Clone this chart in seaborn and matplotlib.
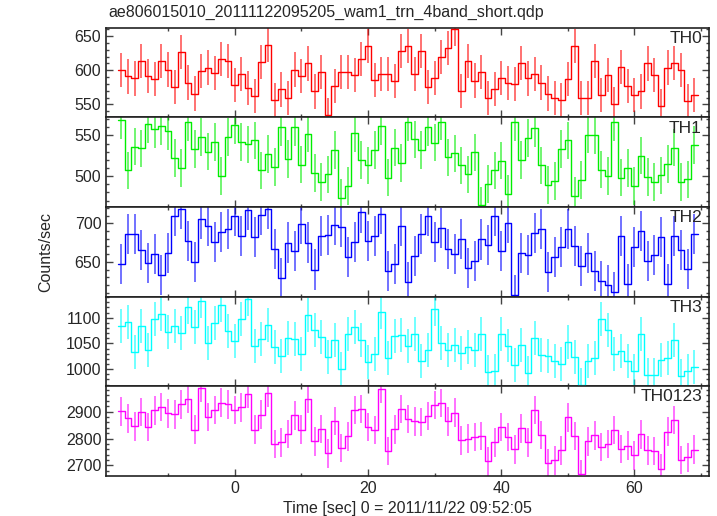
import numpy as np
import pandas as pd
import matplotlib
matplotlib.use("Agg")
import matplotlib.pyplot as plt
import seaborn as sns
from matplotlib.ticker import MultipleLocator, FixedLocator

title = "ae806015010_20111122095205_wam1_trn_4band_short.qdp"
xlabel = "Time [sec] 0 = 2011/11/22 09:52:05"
ylabel = "Counts/sec"

t_first = -17.0      # centre of first 1-s bin
bin_width = 1.0

th0 = [600, 591, 588, 614, 592, 587, 614, 601, 575, 627, 582, 566, 599, 604, 596, 617,
       613, 578, 594, 574, 562, 612, 637, 557, 572, 560, 601, 592, 610, 569, 598, 534,
       577, 597, 598, 593, 617, 636, 586, 595, 595, 584, 628, 635, 594, 628, 575, 589,
       619, 633, 660, 570, 613, 585, 598, 560, 573, 589, 581, 580, 611, 588, 595, 582,
       566, 559, 557, 587, 636, 560, 560, 613, 564, 593, 550, 605, 577, 564, 569, 610,
       593, 548, 604, 611, 600, 555, 564]
th1 = [569, 507, 536, 534, 564, 558, 561, 555, 522, 510, 566, 533, 548, 530, 542, 500,
       548, 563, 542, 539, 544, 507, 527, 511, 560, 521, 560, 514, 552, 504, 493, 502,
       532, 473, 488, 553, 520, 513, 532, 561, 498, 535, 516, 566, 545, 532, 560, 541,
       567, 523, 528, 513, 502, 529, 464, 490, 507, 519, 478, 566, 520, 547, 559, 513,
       489, 494, 533, 544, 476, 495, 551, 550, 508, 500, 566, 498, 510, 488, 525, 499,
       493, 501, 515, 535, 493, 496, 538]
th2 = [647, 686, 686, 665, 648, 660, 633, 662, 709, 718, 677, 650, 705, 696, 676, 689,
       692, 709, 683, 717, 682, 711, 718, 667, 629, 675, 664, 699, 675, 640, 683, 685,
       698, 695, 656, 676, 714, 677, 683, 712, 638, 647, 696, 624, 658, 686, 710, 676,
       694, 667, 660, 680, 642, 651, 679, 672, 709, 664, 700, 607, 661, 659, 687, 692,
       637, 656, 669, 693, 671, 645, 661, 638, 625, 620, 611, 684, 621, 669, 690, 651,
       659, 682, 621, 684, 665, 641, 686]
th3 = [1083, 1092, 1033, 1084, 1037, 1098, 1107, 1073, 1084, 1071, 1120, 1082, 1132, 1050,
       1090, 1125, 1075, 1055, 1097, 1136, 1045, 1059, 1086, 1044, 1026, 1061, 1059, 1029,
       1106, 1077, 1062, 1024, 1057, 1001, 1069, 1082, 1057, 1014, 1029, 1112, 1022, 1065,
       1067, 1045, 1068, 1016, 1038, 1117, 1051, 1038, 1047, 1031, 1043, 1038, 1068, 994,
       997, 1068, 1046, 1008, 1047, 992, 1061, 1028, 1025, 1015, 1011, 1052, 1024, 969,
       1016, 1022, 1098, 1076, 1029, 1035, 1016, 996, 1068, 989, 988, 1017, 1021, 1056,
       986, 996, 1005]
th0123 = [2901, 2875, 2845, 2898, 2843, 2904, 2917, 2893, 2890, 2927, 2948, 2833, 2987,
          2880, 2905, 2933, 2927, 2905, 2916, 2966, 2833, 2889, 2968, 2779, 2786, 2817,
          2886, 2833, 2947, 2790, 2836, 2745, 2865, 2765, 2808, 2905, 2910, 2843, 2831,
          2983, 2753, 2834, 2909, 2873, 2864, 2861, 2884, 2924, 2932, 2864, 2896, 2793,
          2800, 2805, 2810, 2715, 2786, 2843, 2806, 2760, 2838, 2786, 2906, 2813, 2708,
          2719, 2756, 2878, 2810, 2668, 2790, 2812, 2769, 2780, 2831, 2761, 2774, 2738,
          2815, 2756, 2754, 2688, 2826, 2868, 2720, 2730, 2759]

band_names = ["TH0", "TH1", "TH2", "TH3", "TH0123"]
band_values = [th0, th1, th2, th3, th0123]
band_errors = [25, 23, 26, 33, 53]
band_colors = ["#ff0000", "#00ee00", "#0000ff", "#00ffff", "#ff00ff"]
band_ylims = [(531, 662), (462, 572), (605, 721), (967, 1141), (2662, 2994)]
band_yticks = [[550, 600, 650], [500, 550], [650, 700], [1000, 1050, 1100], [2700, 2800, 2900]]
band_minor = [10, 10, 10, 10, 20]
x_ticks = [0, 20, 40, 60]

sns.set_style("ticks")
plt.rcParams["font.family"] = ["Liberation Sans", "DejaVu Sans"]

fig, axes = plt.subplots(5, 1, figsize=(7.17, 5.16), dpi=100, sharex=True)
fig.subplots_adjust(left=0.148, right=0.989, top=0.946, bottom=0.078, hspace=0)

for ax, name, vals, err, col, ylim, yt, mn in zip(axes, band_names, band_values, band_errors,
                                                  band_colors, band_ylims, band_yticks, band_minor):
    vals = np.asarray(vals, dtype=float)
    n = len(vals)
    t = t_first + bin_width * np.arange(n)
    edges = np.append(t - bin_width / 2, t[-1] + bin_width / 2)
    df = pd.DataFrame({"t": edges, "rate": np.append(vals, vals[-1])})
    ax.vlines(t, vals - err, vals + err, color=col, lw=1.3, alpha=0.6, zorder=2)
    sns.lineplot(data=df, x="t", y="rate", ax=ax, color=col, lw=1.0,
                 drawstyle="steps-post", estimator=None, sort=False, zorder=3)
    ax.set_ylim(*ylim)
    ax.set_xlim(-19.3, 71.2)
    ax.yaxis.set_major_locator(FixedLocator(yt))
    ax.yaxis.set_minor_locator(MultipleLocator(mn))
    ax.xaxis.set_major_locator(FixedLocator(x_ticks))
    ax.xaxis.set_minor_locator(MultipleLocator(10))
    ax.tick_params(which="both", direction="in", top=True, right=True, labelsize=11.5,
                   width=1.0, color="#444444")
    ax.tick_params(which="major", length=5)
    ax.tick_params(which="minor", length=2.5)
    for s in ax.spines.values():
        s.set_linewidth(1.2)
        s.set_color("#222222")
    ax.set_xlabel("")
    ax.set_ylabel("")
    ax.text(0.988, 0.965, name, transform=ax.transAxes, ha="right", va="top", fontsize=12.5)

axes[-1].set_xlabel(xlabel, fontsize=11.5, labelpad=4)
fig.text(0.064, 0.512, ylabel, rotation=90, ha="center", va="center", fontsize=11.5)
fig.text(0.151, 0.975, title, ha="left", va="center", fontsize=11.5)

fig.savefig("out.png", dpi=100)
